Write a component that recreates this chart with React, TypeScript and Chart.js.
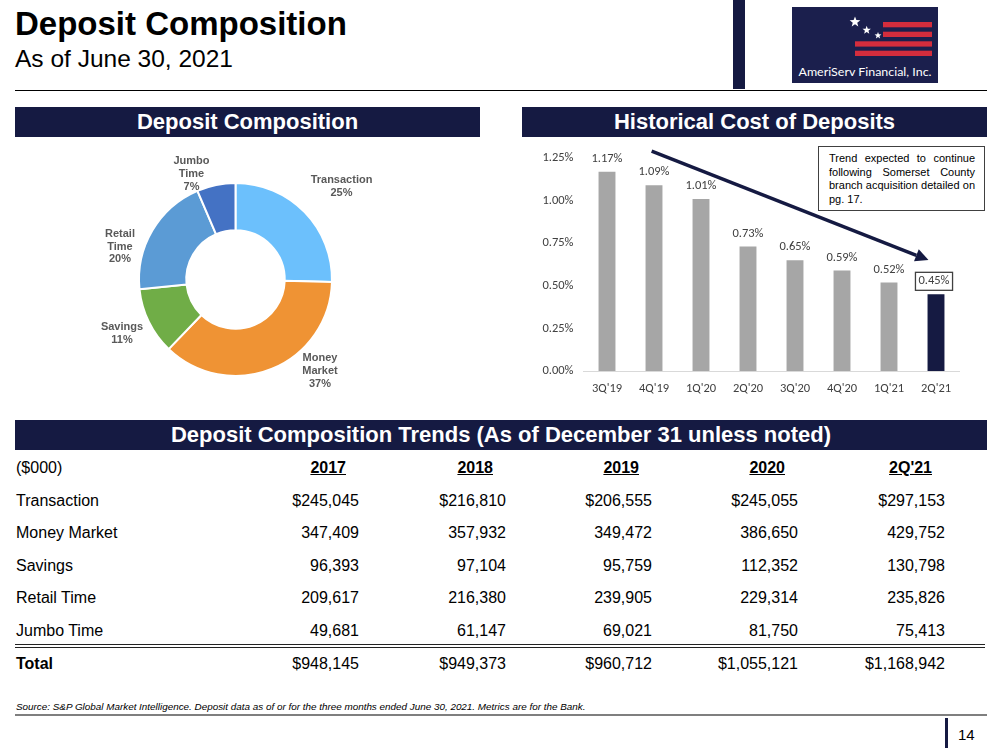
import React, { useEffect, useRef } from "react";
import { Chart, registerables } from "chart.js";

Chart.register(...registerables);

// ---------- DATA ----------
const DONUT_CATEGORIES = ["Transaction", "Money Market", "Savings", "Retail Time", "Jumbo Time"];
const DONUT_VALUES = [297153, 429752, 130798, 235826, 75413];
const DONUT_PCT_LABELS = ["25%", "37%", "11%", "20%", "7%"];
const DONUT_LABEL_LINES = [["Transaction"], ["Money", "Market"], ["Savings"], ["Retail", "Time"], ["Jumbo", "Time"]];

const COST_QUARTERS = ["3Q'19", "4Q'19", "1Q'20", "2Q'20", "3Q'20", "4Q'20", "1Q'21", "2Q'21"];
const COST_VALUES = [1.17, 1.09, 1.01, 0.73, 0.65, 0.59, 0.52, 0.45];
const COST_TICKS = [0, 0.25, 0.5, 0.75, 1.0, 1.25];

const TABLE_PERIODS = ["2017", "2018", "2019", "2020", "2Q'21"];
const ROW_NAMES = ["Transaction", "Money Market", "Savings", "Retail Time", "Jumbo Time"];
const TRANSACTION = [245045, 216810, 206555, 245055, 297153];
const MONEY_MARKET = [347409, 357932, 349472, 386650, 429752];
const SAVINGS = [96393, 97104, 95759, 112352, 130798];
const RETAIL_TIME = [209617, 216380, 239905, 229314, 235826];
const JUMBO_TIME = [49681, 61147, 69021, 81750, 75413];
const TOTALS = [948145, 949373, 960712, 1055121, 1168942];

// ---------- STYLE CONSTANTS ----------
const NAVY = "#151a42";
const DONUT_COLORS = ["#6cc0fc", "#ef9334", "#70ad47", "#5b9bd5", "#4472c4"];
// label block centres relative to donut centre (px)
const DONUT_LABEL_OFFSETS = [
  [106, -93],
  [84.5, 91.5],
  [-113.5, 54],
  [-115.5, -33],
  [-44, -105.5],
];
const TREND_FROM = [0.95, 1.291];
const TREND_TO = [6.84, 0.651];
const CHART_FONT = "Carlito, Lato, 'Open Sans', sans-serif";
const CHART_FONT_SIZE = 12.5;
const ARIAL = "'Liberation Sans', Arial, sans-serif";
const NARROW = "'Liberation Sans Narrow', 'Arial Narrow', 'Liberation Sans', sans-serif";

const fmt = (v: number) => v.toLocaleString("en-US");

function DonutChart() {
  const ref = useRef<HTMLCanvasElement>(null);
  useEffect(() => {
    if (!ref.current) return;
    const labelPlugin = {
      id: "donutLabels",
      afterDatasetsDraw(chart: any) {
        const meta = chart.getDatasetMeta(0);
        const arc = meta.data[0];
        const cx = arc.x;
        const cy = arc.y;
        const ctx = chart.ctx;
        ctx.save();
        ctx.font = `bold 11px ${ARIAL}`;
        ctx.fillStyle = "#595959";
        ctx.textAlign = "center";
        ctx.textBaseline = "middle";
        const lh = 12.7;
        DONUT_CATEGORIES.forEach((_, i) => {
          const lines = [...DONUT_LABEL_LINES[i], DONUT_PCT_LABELS[i]];
          const [dx, dy] = DONUT_LABEL_OFFSETS[i];
          const top = cy + dy - ((lines.length - 1) * lh) / 2;
          lines.forEach((t, j) => ctx.fillText(t, cx + dx, top + j * lh));
        });
        ctx.restore();
      },
    };
    const chart = new Chart(ref.current, {
      type: "doughnut",
      data: {
        labels: DONUT_CATEGORIES,
        datasets: [
          {
            data: DONUT_VALUES,
            backgroundColor: DONUT_COLORS,
            borderColor: "#ffffff",
            borderWidth: 2,
          },
        ],
      },
      options: {
        responsive: false,
        animation: false,
        cutout: "51%",
        layout: { padding: { left: 123, top: 42, right: 147, bottom: 33 } },
        plugins: { legend: { display: false }, tooltip: { enabled: false } },
      },
      plugins: [labelPlugin],
    } as any);
    return () => chart.destroy();
  }, []);
  return <canvas ref={ref} width={465} height={270} style={{ width: 465, height: 270, display: "block" }} />;
}

function CostChart() {
  const ref = useRef<HTMLCanvasElement>(null);
  useEffect(() => {
    if (!ref.current) return;
    const last = COST_VALUES.length - 1;
    const annot = {
      id: "costAnnot",
      afterDatasetsDraw(chart: any) {
        const ctx = chart.ctx;
        const meta = chart.getDatasetMeta(0);
        ctx.save();
        ctx.font = `${CHART_FONT_SIZE}px ${CHART_FONT}`;
        ctx.fillStyle = "#404040";
        ctx.textAlign = "center";
        ctx.textBaseline = "middle";
        meta.data.forEach((bar: any, i: number) => {
          const txt = COST_VALUES[i].toFixed(2) + "%";
          const y = bar.y - 13;
          if (i === last) {
            const bw = ctx.measureText(txt).width + 6;
            const bxl = bar.x - 2 - bw / 2;
            ctx.fillStyle = "#ffffff";
            ctx.fillRect(bxl, y - 9, bw, 18);
            ctx.strokeStyle = "#404040";
            ctx.lineWidth = 1.3;
            ctx.strokeRect(bxl, y - 9, bw, 18);
            ctx.fillStyle = "#404040";
            ctx.fillText(txt, bar.x - 2, y);
          } else {
            ctx.fillText(txt, bar.x, y);
          }
        });
        // trend arrow
        const xs = chart.scales.x;
        const ys = chart.scales.y;
        const x1 = xs.getPixelForValue(TREND_FROM[0]);
        const y1 = ys.getPixelForValue(TREND_FROM[1]);
        const x2 = xs.getPixelForValue(TREND_TO[0]);
        const y2 = ys.getPixelForValue(TREND_TO[1]);
        const ang = Math.atan2(y2 - y1, x2 - x1);
        const headLen = 13;
        const headW = 6.5;
        const bx = x2 - headLen * Math.cos(ang);
        const by = y2 - headLen * Math.sin(ang);
        ctx.strokeStyle = NAVY;
        ctx.fillStyle = NAVY;
        ctx.lineWidth = 3.5;
        ctx.beginPath();
        ctx.moveTo(x1, y1);
        ctx.lineTo(bx, by);
        ctx.stroke();
        ctx.beginPath();
        ctx.moveTo(x2, y2);
        ctx.lineTo(bx + headW * Math.sin(ang), by - headW * Math.cos(ang));
        ctx.lineTo(bx - headW * Math.sin(ang), by + headW * Math.cos(ang));
        ctx.closePath();
        ctx.fill();
        ctx.restore();
      },
    };
    const chart = new Chart(ref.current, {
      type: "bar",
      data: {
        labels: COST_QUARTERS,
        datasets: [
          {
            data: COST_VALUES,
            backgroundColor: COST_VALUES.map((_, i) => (i === last ? NAVY : "#a6a6a6")),
            barPercentage: 0.72,
            categoryPercentage: 0.5,
          },
        ],
      },
      options: {
        responsive: false,
        animation: false,
        layout: { padding: { left: 0, top: 18, right: 27.5, bottom: 0 } },
        plugins: { legend: { display: false }, tooltip: { enabled: false } },
        scales: {
          x: {
            grid: { display: false, drawTicks: false },
            border: { display: true, color: "#d9d9d9", width: 1 },
            ticks: { color: "#404040", font: { size: CHART_FONT_SIZE, family: CHART_FONT }, padding: 10, maxRotation: 0 },
            afterFit: (s: any) => {
              s.height = 29;
            },
          },
          y: {
            min: 0,
            max: 1.25,
            grid: { display: false, drawTicks: false },
            border: { display: false },
            afterBuildTicks: (s: any) => {
              s.ticks = COST_TICKS.map((v) => ({ value: v }));
            },
            ticks: {
              color: "#404040",
              font: { size: CHART_FONT_SIZE, family: CHART_FONT },
              padding: 10,
              callback: (v: any) => Number(v).toFixed(2) + "%",
            },
            afterFit: (s: any) => {
              s.width = 61.5;
            },
          },
        },
      },
      plugins: [annot],
    } as any);
    return () => chart.destroy();
  }, []);
  return <canvas ref={ref} width={465} height={260} style={{ width: 465, height: 260, display: "block" }} />;
}

const starPoints = (cx: number, cy: number, r: number) => {
  const pts: string[] = [];
  for (let i = 0; i < 10; i++) {
    const rad = i % 2 === 0 ? r : r * 0.42;
    const a = -Math.PI / 2 + (i * Math.PI) / 5;
    pts.push(`${(cx + rad * Math.cos(a)).toFixed(2)},${(cy + rad * Math.sin(a)).toFixed(2)}`);
  }
  return pts.join(" ");
};

function SectionHeader(props: { left: number; top: number; width: number; text: string; narrow?: boolean }) {
  return (
    <div
      style={{
        position: "absolute",
        left: props.left,
        top: props.top,
        width: props.width,
        height: 30,
        background: NAVY,
        color: "#fff",
        fontFamily: props.narrow ? NARROW : ARIAL,
        fontWeight: "bold",
        fontSize: 22,
        lineHeight: "30px",
        textAlign: "center",
        whiteSpace: "nowrap",
      }}
    >
      {props.text}
    </div>
  );
}

const COL_RIGHTS = [359, 506, 652, 798, 945];
const ROW_TOP0 = 452;
const ROW_H = 32.6;

function TableRow(props: { idx: number; label: string; cells: string[]; bold?: boolean; header?: boolean }) {
  const top = ROW_TOP0 + props.idx * ROW_H;
  return (
    <>
      <div
        style={{
          position: "absolute",
          left: 16,
          top,
          height: ROW_H,
          lineHeight: ROW_H + "px",
          fontSize: 16,
          fontWeight: props.bold ? "bold" : "normal",
          whiteSpace: "nowrap",
        }}
      >
        {props.label}
      </div>
      {props.cells.map((c, i) => (
        <div
          key={i}
          style={{
            position: "absolute",
            left: COL_RIGHTS[i] - 140,
            width: props.header ? 140 - 13 : 140,
            top,
            height: ROW_H,
            lineHeight: ROW_H + "px",
            fontSize: 16,
            textAlign: "right",
            fontWeight: props.header ? "bold" : "normal",
            textDecoration: props.header ? "underline" : "none",
            whiteSpace: "nowrap",
          }}
        >
          {c}
        </div>
      ))}
    </>
  );
}

export default function App() {
  useEffect(() => {
    document.body.style.margin = "0";
  }, []);
  const rows = [TRANSACTION, MONEY_MARKET, SAVINGS, RETAIL_TIME, JUMBO_TIME];
  return (
    <div
      style={{
        position: "absolute",
        left: 0,
        top: 0,
        width: 1000,
        height: 750,
        background: "#fff",
        fontFamily: ARIAL,
        color: "#000",
        overflow: "hidden",
      }}
    >
      {/* Title */}
      <div style={{ position: "absolute", left: 15, top: 5, fontSize: 33, fontWeight: "bold", lineHeight: "37px", whiteSpace: "nowrap" }}>
        Deposit Composition
      </div>
      <div style={{ position: "absolute", left: 15, top: 44, fontSize: 24.5, lineHeight: "30px", whiteSpace: "nowrap" }}>
        As of June 30, 2021
      </div>
      <div style={{ position: "absolute", left: 15, top: 90, width: 972, height: 1, background: "#000" }} />
      <div style={{ position: "absolute", left: 733, top: 0, width: 12, height: 89, background: NAVY }} />
      {/* Logo */}
      <svg style={{ position: "absolute", left: 792, top: 7 }} width={146} height={76} viewBox="0 0 146 76">
        <rect x={0} y={0} width={146} height={76} fill="#1b1f4d" />
        <rect x={91} y={15} width={49} height={5.3} fill="#d42d3d" />
        <rect x={91} y={24.7} width={49} height={5.3} fill="#d42d3d" />
        <rect x={63} y={34.3} width={77} height={5.3} fill="#d42d3d" />
        <rect x={63} y={43.7} width={77} height={5.3} fill="#d42d3d" />
        <polygon points={starPoints(63, 15, 5.6)} fill="#fff" />
        <polygon points={starPoints(74.7, 23.2, 4.4)} fill="#fff" />
        <polygon points={starPoints(86, 28.5, 3.6)} fill="#fff" />
        <text x={73} y={69} textAnchor="middle" fill="#fff" fontSize={12} fontFamily="Lato, 'Open Sans', sans-serif" textLength={133} lengthAdjust="spacingAndGlyphs">
          AmeriServ Financial, Inc.
        </text>
      </svg>

      {/* Section headers */}
      <SectionHeader left={15} top={107} width={465} text="Deposit Composition" />
      <SectionHeader left={522} top={107} width={465} text="Historical Cost of Deposits" />
      <SectionHeader left={15} top={420} width={972} text="Deposit Composition Trends (As of December 31 unless noted)" narrow />

      {/* Donut */}
      <div style={{ position: "absolute", left: 15, top: 140, width: 465, height: 270 }}>
        <DonutChart />
      </div>

      {/* Bar chart */}
      <div style={{ position: "absolute", left: 522, top: 140, width: 465, height: 260 }}>
        <CostChart />
      </div>

      {/* Trend note */}
      <div
        style={{
          position: "absolute",
          left: 818,
          top: 146,
          width: 167,
          height: 65,
          boxSizing: "border-box",
          border: "1px solid #404040",
          background: "#fff",
          padding: "5px 9px 0 10px",
          fontSize: 11,
          lineHeight: "13.7px",
          fontFamily: ARIAL,
        }}
      >
        {["Trend expected to continue", "following Somerset County", "branch acquisition detailed on"].map((t, i) => (
          <div key={i} style={{ textAlign: "justify", textAlignLast: "justify", whiteSpace: "nowrap" } as any}>
            {t}
          </div>
        ))}
        <div>pg. 17.</div>
      </div>

      {/* Table */}
      <TableRow idx={0} label="($000)" cells={TABLE_PERIODS} header />
      {ROW_NAMES.map((name, r) => (
        <TableRow key={name} idx={r + 1} label={name} cells={rows[r].map((v) => (r === 0 ? "$" : "") + fmt(v))} />
      ))}
      <div style={{ position: "absolute", left: 15, top: 644, width: 970, height: 1, background: "#222" }} />
      <div style={{ position: "absolute", left: 15, top: 647, width: 970, height: 1, background: "#222" }} />
      <TableRow idx={6} label="Total" cells={TOTALS.map((v) => "$" + fmt(v))} bold />

      {/* Footer */}
      <div
        style={{
          position: "absolute",
          left: 16,
          top: 701,
          fontSize: 9.9,
          fontStyle: "italic",
          fontFamily: NARROW,
          whiteSpace: "nowrap",
          lineHeight: "12px",
        }}
      >
        Source: S&amp;P Global Market Intelligence. Deposit data as of or for the three months ended June 30, 2021. Metrics are for the Bank.
      </div>
      <div style={{ position: "absolute", left: 15, top: 714, width: 972, height: 2, background: "#7f7f7f" }} />
      <div style={{ position: "absolute", left: 945, top: 718, width: 3, height: 30, background: NAVY }} />
      <div style={{ position: "absolute", left: 958, top: 726, fontSize: 15, lineHeight: "18px" }}>14</div>
    </div>
  );
}
